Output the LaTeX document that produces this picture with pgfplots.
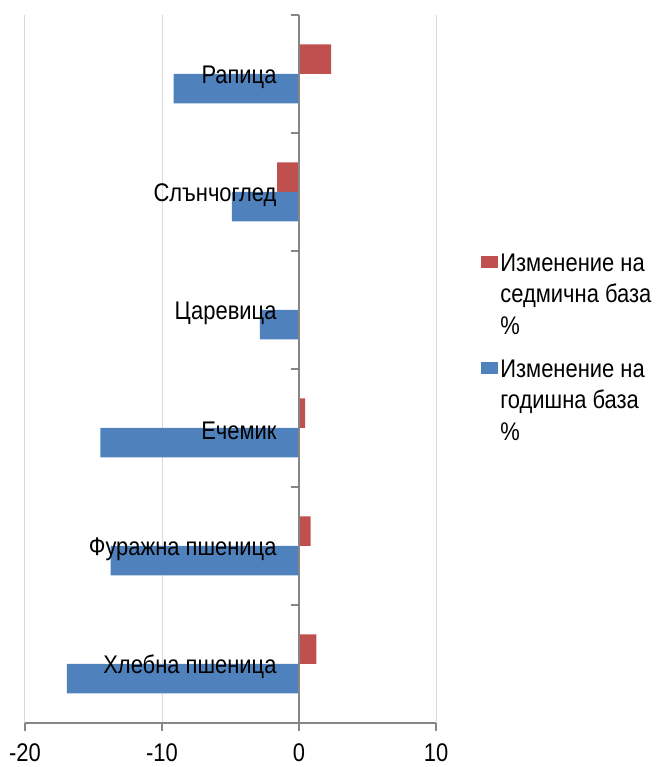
\documentclass[border=0pt]{standalone}
\usepackage{fontspec}
\setmainfont{Liberation Sans}[FakeStretch=0.86]
\usepackage{pgfplots}
\pgfplotsset{compat=1.18}
\definecolor{weekred}{HTML}{C0504D}
\definecolor{yearblue}{HTML}{4F81BD}
\definecolor{axisgray}{HTML}{868686}
\definecolor{gridgray}{HTML}{D9D9D9}
\newcommand{\chartfont}{\fontsize{25.5bp}{31.5bp}\selectfont}

\begin{document}
\begin{tikzpicture}
\begin{axis}[
    name=ax,
    axis on top,
    clip=false,
    scale only axis,
    width=411bp, height=708bp,
    xmin=-20, xmax=10,
    ymin=-0.5, ymax=5.5,
    axis x line=bottom,
    axis y line=middle,
    axis line style={-, axisgray, line width=1.2bp},
    hide obscured x ticks=false,
    hide obscured y ticks=false,
    xtick={-20,-10,0,10},
    xticklabels={-20,-10,0,10},
    ytick={0,...,5},
    yticklabels={Хлебна пшеница, Фуражна пшеница, Ечемик, Царевица, Слънчоглед, Рапица},
    minor ytick={-0.5,0.5,...,5.5},
    tick align=outside,
    major tick length=8bp,
    minor tick length=8bp,
    major x tick style={axisgray, line width=1.2bp},
    major y tick style={draw=none},
    minor y tick style={axisgray, line width=1.2bp},
    tick label style={font=\chartfont, text=black},
    xticklabel style={yshift=-9bp},
    yticklabel style={xshift=-11bp, yshift=-3bp},
    xbar,
    bar width=0.25,
    legend style={at={(1.11,0.53)}, anchor=west, draw=none, fill=none,
        inner sep=0pt, font=\chartfont, row sep=20bp,
        cells={anchor=base west, align=left}},
    legend image code/.code={\fill[#1] (0bp,66bp) rectangle (17bp,78bp);},
]

% vertical grid lines first, so that the bars cover them
\draw[gridgray, line width=1bp] (axis cs:-20,-0.5) -- (axis cs:-20,5.5);
\draw[gridgray, line width=1bp] (axis cs:-10,-0.5) -- (axis cs:-10,5.5);
\draw[gridgray, line width=1bp] (axis cs:10,-0.5) -- (axis cs:10,5.5);

% weekly change, %
\addplot[fill=weekred, draw=none, bar shift=0.125]
coordinates {
    (1.27,0)
    (0.85,1)
    (0.45,2)
    (0,3)
    (-1.6,4)
    (2.35,5)
};
\addlegendentry{Изменение на\\седмична база\\\%}

% yearly change, %
\addplot[fill=yearblue, draw=none, bar shift=-0.125]
coordinates {
    (-16.95,0)
    (-13.75,1)
    (-14.5,2)
    (-2.85,3)
    (-4.9,4)
    (-9.15,5)
};
\addlegendentry{Изменение на\\годишна база\\\%}

\end{axis}
\pgfresetboundingbox
\path[use as bounding box] ([xshift=-25bp,yshift=-44bp]ax.south west)
    rectangle ([xshift=220bp,yshift=15bp]ax.north east);
\end{tikzpicture}
\end{document}
